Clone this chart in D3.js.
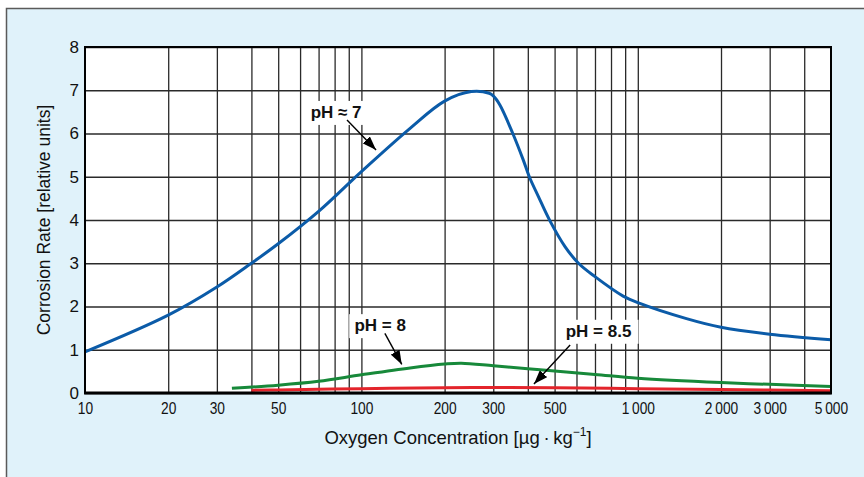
<!DOCTYPE html>
<html>
<head>
<meta charset="utf-8">
<script src="https://cdn.jsdelivr.net/npm/d3@7"></script>
<style>
  body { margin: 0; background: #ffffff; }
  svg text { font-family: "Liberation Sans", Arial, sans-serif; fill: #111; }
</style>
</head>
<body>
<svg id="CHART" width="864" height="477"></svg>
<script>
// Values
var oxygen7 = [10, 20, 30, 40, 50, 70, 100, 150, 200, 250, 290, 300, 317, 353, 385, 405, 437, 481, 546, 610, 700, 885, 1000, 1500, 2000, 3000, 5000];
var rate7 = [0.95, 1.8, 2.45, 3.0, 3.45, 4.2, 5.12, 6.12, 6.75, 6.97, 6.93, 6.87, 6.66, 6.0, 5.39, 5.0, 4.54, 3.98, 3.38, 3.0, 2.69, 2.24, 2.09, 1.72, 1.52, 1.36, 1.23];

var oxygen8 = [34, 50, 70, 100, 150, 200, 230, 300, 400, 500, 700, 1000, 2000, 3000, 5000];
var rate8 = [0.11, 0.18, 0.27, 0.42, 0.58, 0.67, 0.69, 0.63, 0.56, 0.51, 0.43, 0.34, 0.24, 0.2, 0.15];

var oxygen85 = [40, 50, 100, 200, 300, 500, 1000, 2000, 5000];
var rate85 = [0.06, 0.07, 0.1, 0.12, 0.13, 0.12, 0.1, 0.08, 0.05];

var xTickValues = [10, 20, 30, 50, 100, 200, 300, 500, 1000, 2000, 3000, 5000];
var xTickLabels = ["10", "20", "30", "50", "100", "200", "300", "500", "1\u2009000", "2\u2009000", "3\u2009000", "5\u2009000"];
var xGridValues = [20, 30, 40, 50, 60, 70, 80, 90, 100, 200, 300, 400, 500, 600, 700, 800, 900, 1000, 2000, 3000, 4000];
var yTickValues = [0, 1, 2, 3, 4, 5, 6, 7, 8];

// label text, label position and arrow (start -> tip) in data units
var labelTexts = ["pH \u2248 7", "pH = 8", "pH = 8.5"];
var labelX = [81, 117, 721];
var labelY = [6.36, 1.43, 1.30];
var arrowFromX = [88.7, 121.6, 569];
var arrowFromY = [6.31, 1.38, 1.11];
var arrowToX = [113, 140, 421];
var arrowToY = [5.62, 0.66, 0.21];

var seriesColors = ["#0b5ba8", "#17893a", "#e3242b"];

const MARGIN = { LEFT: 85, RIGHT: 33, TOP: 47, BOTTOM: 84 };
var width = 864, height = 477;

let svg = d3.select("#CHART");

// outer light blue panel
svg.append("rect")
  .attr("x", 6.5).attr("y", 8.5)
  .attr("width", 870).attr("height", 480)
  .attr("fill", "#e0f2fa")
  .attr("stroke", "#5a5a5a")
  .attr("stroke-width", 1.5);

// scales
let xScale = d3.scaleLog()
  .domain([10, 5000])
  .range([MARGIN.LEFT, width - MARGIN.RIGHT]);
let yScale = d3.scaleLinear()
  .domain([0, 8])
  .range([height - MARGIN.BOTTOM, MARGIN.TOP]);

// plot background
svg.append("rect")
  .attr("x", xScale(10)).attr("y", yScale(8))
  .attr("width", xScale(5000) - xScale(10))
  .attr("height", yScale(0) - yScale(8))
  .attr("fill", "#ffffff");

// grid
let grid = svg.append("g").attr("class", "grid");
grid.append("g")
  .attr("transform", "translate(0," + yScale(0) + ")")
  .call(d3.axisBottom(xScale).tickValues(xGridValues)
    .tickSize(-(yScale(0) - yScale(8))).tickFormat(""))
  .call(g => g.select(".domain").remove());
grid.append("g")
  .attr("transform", "translate(" + xScale(10) + ",0)")
  .call(d3.axisLeft(yScale).tickValues(yTickValues)
    .tickSize(-(xScale(5000) - xScale(10))).tickFormat(""))
  .call(g => g.select(".domain").remove());
grid.selectAll("line").attr("stroke", "#2a2a2a").attr("stroke-width", 1.3);

// white boxes behind labels
let boxW = [60, 62, 80];
svg.selectAll(".labelBox")
  .data(labelTexts)
  .enter().append("rect")
  .attr("class", "labelBox")
  .attr("x", (d, i) => xScale(labelX[i]) - boxW[i] / 2)
  .attr("y", (d, i) => yScale(labelY[i]) - 17)
  .attr("width", (d, i) => boxW[i])
  .attr("height", 24)
  .attr("fill", "#ffffff");

// curves
let line = d3.line()
  .x(d => xScale(d[0]))
  .y(d => yScale(d[1]))
  .curve(d3.curveCatmullRom.alpha(0.5));

let series = [
  d3.zip(oxygen7, rate7),
  d3.zip(oxygen8, rate8),
  d3.zip(oxygen85, rate85)
];

svg.selectAll(".curve")
  .data(series)
  .enter().append("path")
  .attr("class", "curve")
  .attr("d", line)
  .attr("fill", "none")
  .attr("stroke", (d, i) => seriesColors[i])
  .attr("stroke-width", 3);

// plot frame
svg.append("rect")
  .attr("x", xScale(10)).attr("y", yScale(8))
  .attr("width", xScale(5000) - xScale(10))
  .attr("height", yScale(0) - yScale(8))
  .attr("fill", "none")
  .attr("stroke", "#000")
  .attr("stroke-width", 2);
svg.append("line")
  .attr("x1", xScale(10) - 1).attr("x2", xScale(5000) + 1)
  .attr("y1", yScale(0)).attr("y2", yScale(0))
  .attr("stroke", "#000").attr("stroke-width", 3);

// x axis tick labels
let xAxis = svg.append("g")
  .attr("transform", "translate(0," + yScale(0) + ")")
  .call(d3.axisBottom(xScale).tickValues(xTickValues).tickSize(0).tickPadding(10)
    .tickFormat((d, i) => xTickLabels[i]));
xAxis.select(".domain").remove();
xAxis.selectAll("text")
  .attr("font-size", 16)
  .attr("transform", "scale(0.86,1)")
  .style("fill", "#111");

// y axis tick labels
let yAxis = svg.append("g")
  .attr("transform", "translate(" + xScale(10) + ",0)")
  .call(d3.axisLeft(yScale).tickValues(yTickValues).tickSize(0).tickPadding(6));
yAxis.select(".domain").remove();
yAxis.selectAll("text")
  .attr("font-size", 17)
  .style("fill", "#111");

// axis titles
let xTitle = svg.append("text")
  .attr("x", (xScale(10) + xScale(5000)) / 2)
  .attr("y", 444)
  .attr("text-anchor", "middle")
  .attr("font-size", 18.5)
  .text("Oxygen Concentration [\u00b5g\u2009\u00b7\u2009kg");
xTitle.append("tspan").attr("dy", -8).attr("font-size", 12).text("\u22121");
xTitle.append("tspan").attr("dy", 8).text("]");

svg.append("text")
  .attr("transform", "translate(50," + (yScale(0) + yScale(8)) / 2 + ") rotate(-90)")
  .attr("text-anchor", "middle")
  .attr("font-size", 17.5)
  .text("Corrosion Rate [relative units]");

// arrows
svg.append("defs").append("marker")
  .attr("id", "arrowHead")
  .attr("markerUnits", "userSpaceOnUse")
  .attr("viewBox", "0 0 14 10")
  .attr("refX", 14).attr("refY", 5)
  .attr("markerWidth", 14).attr("markerHeight", 10)
  .attr("orient", "auto")
  .append("path")
  .attr("d", "M0,0 L14,5 L0,10 Z")
  .attr("fill", "#000");

svg.selectAll(".arrow")
  .data(labelTexts)
  .enter().append("line")
  .attr("class", "arrow")
  .attr("x1", (d, i) => xScale(arrowFromX[i]))
  .attr("y1", (d, i) => yScale(arrowFromY[i]))
  .attr("x2", (d, i) => xScale(arrowToX[i]))
  .attr("y2", (d, i) => yScale(arrowToY[i]))
  .attr("stroke", "#000")
  .attr("stroke-width", 1.4)
  .attr("marker-end", "url(#arrowHead)");

// pH labels
svg.selectAll(".phLabel")
  .data(labelTexts)
  .enter().append("text")
  .attr("class", "phLabel")
  .attr("x", (d, i) => xScale(labelX[i]))
  .attr("y", (d, i) => yScale(labelY[i]))
  .attr("text-anchor", "middle")
  .attr("font-size", 17)
  .attr("font-weight", "bold")
  .text(d => d);
</script>
</body>
</html>
